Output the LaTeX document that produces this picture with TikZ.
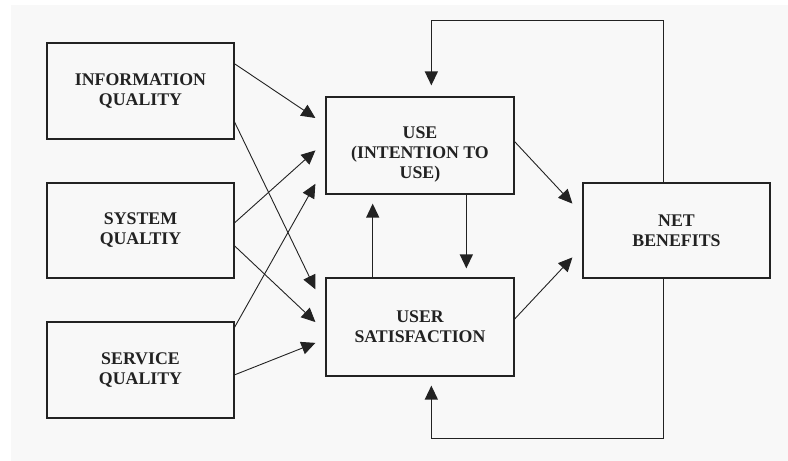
\documentclass[tikz,border=0pt]{standalone}
\usepackage{fontspec}
\setmainfont{Liberation Serif}
\usetikzlibrary{arrows.meta,calc}
\definecolor{paper}{HTML}{F8F8F8}
\definecolor{ink}{HTML}{222222}
\begin{document}
\begin{tikzpicture}[x=1pt,y=-1pt,
  boxst/.style={draw=ink,line width=1.2pt,minimum width=187pt,inner sep=0pt},
  lbl/.style={align=center,text=ink,font=\bfseries\fontsize{17.8}{20}\selectfont},
  arr/.style={draw=ink,line width=0.9pt,-{Triangle[length=14pt,width=13pt]}},
  fb/.style={draw=ink,line width=1.3pt,-{Triangle[length=14pt,width=13pt]}}]
  % page and grey sheet
  \useasboundingbox (0,0) rectangle (788,461);
  \fill[white] (0,0) rectangle (788,461);
  \fill[paper] (11,5) rectangle (788,461);

  % boxes
  \node[boxst,minimum height=96pt] (info) at (140.5,91) {};
  \node[boxst,minimum height=95pt] (sys)  at (140.5,230.5) {};
  \node[boxst,minimum height=96pt] (serv) at (140.5,370) {};
  \node[boxst,minimum width=188pt,minimum height=97pt] (use) at (420,145.5) {};
  \node[boxst,minimum width=188pt,minimum height=98pt] (us)  at (420,327) {};
  \node[boxst,minimum height=95pt] (net)  at (676.5,230.5) {};

  % labels
  \node[lbl] (infot) at (info.center) {INFORMATION\\QUALITY};
  \node[lbl] (syst)  at (sys.center)  {SYSTEM\\QUALTIY};
  \node[lbl] (servt) at (serv.center) {SERVICE\\QUALITY};
  \node[lbl] (uset)  at ($(use.center)+(0,9)$) {USE\\(INTENTION TO\\USE)};
  \node[lbl] (ust)   at (us.center)   {USER\\SATISFACTION};
  \node[lbl] (nett)  at (net.center)  {NET\\BENEFITS};

  % quality dimensions to use and satisfaction
  \draw[arr] ($(info.north east)!0.22!(info.south east)$) -- ($(use.north west)!0.22!(use.south west)+(-10,0)$);
  \draw[arr] ($(info.north east)!0.82!(info.south east)$) -- ($(us.north west)!0.12!(us.south west)+(-10,0)$);
  \draw[arr] ($(sys.north east)!0.42!(sys.south east)$) -- ($(use.north west)!0.55!(use.south west)+(-10,0)$);
  \draw[arr] ($(sys.north east)!0.66!(sys.south east)$) -- ($(us.north west)!0.45!(us.south west)+(-10,0)$);
  \draw[arr] ($(serv.north east)!0.06!(serv.south east)$) -- ($(use.north west)!0.89!(use.south west)+(-10,0)$);
  \draw[arr] ($(serv.north east)!0.55!(serv.south east)$) -- ($(us.north west)!0.66!(us.south west)+(-10,0)$);

  % use <-> satisfaction
  \draw[fb,shorten >=9pt] ($(use.south west)!0.745!(use.south east)$) -- ($(us.north west)!0.745!(us.north east)$);
  \draw[fb,shorten >=9pt] ($(us.north west)!0.25!(us.north east)$) -- ($(use.south west)!0.25!(use.south east)$);

  % to net benefits
  \draw[arr] ($(use.north east)!0.46!(use.south east)$) -- ($(net.north west)!0.22!(net.south west)+(-10,0)$);
  \draw[arr] ($(us.north east)!0.42!(us.south east)$) -- ($(net.north west)!0.78!(net.south west)+(-10,0)$);

  % feedback loops
  \draw[fb,shorten >=11pt] ($(net.north west)!0.43!(net.north east)$) -- ++(0,-162) -| ($(use.north west)!0.56!(use.north east)$);
  \draw[fb,shorten >=9pt] ($(net.south west)!0.43!(net.south east)$) -- ++(0,160) -| ($(us.south west)!0.56!(us.south east)$);
\end{tikzpicture}
\end{document}
